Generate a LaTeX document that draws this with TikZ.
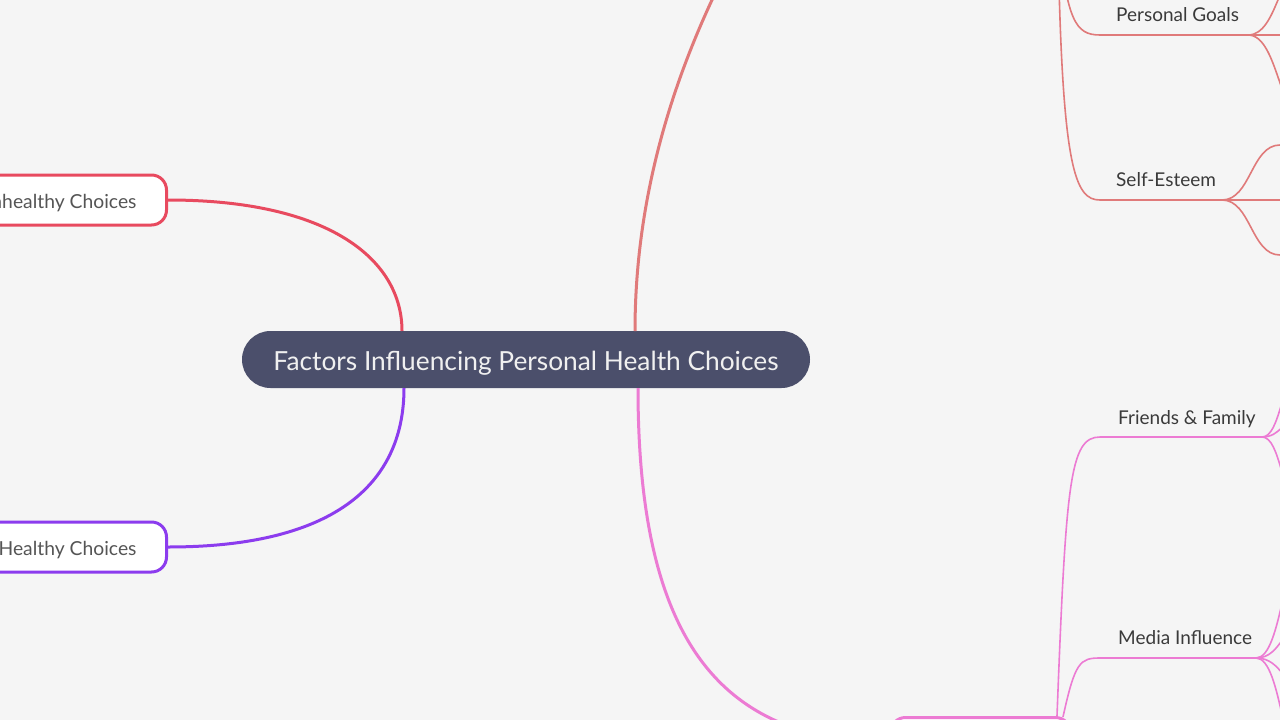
\documentclass[tikz,border=0pt]{standalone}
\usepackage{fontspec}
\setmainfont{Lato}
\definecolor{bg}{HTML}{F5F5F5}
\definecolor{central}{HTML}{4B4F6B}
\definecolor{redL}{HTML}{E84A5F}
\definecolor{purpleL}{HTML}{8C3CEE}
\definecolor{salmon}{HTML}{E07A7A}
\definecolor{pinkL}{HTML}{EC7BD3}
\definecolor{txt}{HTML}{3A3A3A}
\definecolor{boxtxt}{HTML}{555555}
\newcommand{\lowertext}[2]{\raisebox{-#1}[\height][\depth]{#2}}
\tikzset{
  centralnode/.style={fill=central, text=white!94!black, rounded corners=28.5pt, minimum width=568pt, minimum height=57pt, inner sep=0pt, font=\fontsize{26.3}{30}\selectfont},
  topicbox/.style={fill=white, line width=3pt, rounded corners=15pt, minimum height=50pt, inner xsep=30pt, text=boxtxt, font=\fontsize{19.3}{22}\selectfont},
  lbl/.style={text=txt, inner sep=0pt, font=\fontsize{19}{22}\selectfont},
  thick1/.style={line width=3pt},
  thin1/.style={line width=1.6pt},
}
\begin{document}
\begin{tikzpicture}[x=1pt,y=-1pt]
\useasboundingbox[fill=bg] (0,0) rectangle (1280,720);

% connector end points on the central node
\coordinate (cRedTop) at (402,331);
\coordinate (cPurBot) at (404,388);
\coordinate (cSalTop) at (635,331);
\coordinate (cPinkBot) at (638,388);
\coordinate (topParent) at (737,-50);
\coordinate (upParent) at (1058,-60);

% central node
\node[centralnode] (c) at (526,359.5) {\lowertext{4pt}{Factors Influencing Personal Health Choices}};

% left topic boxes
\node[topicbox, draw=redL, anchor=east] (u) at (168,200) {\lowertext{3.5pt}{Unhealthy Choices}};
\node[topicbox, draw=purpleL, anchor=east] (h) at (168,547) {\lowertext{3.5pt}{Healthy Choices}};

% bottom pink box (mostly off-page)
\node[topicbox, draw=pinkL, minimum width=180pt, anchor=north west] (m) at (889,716) {};

\draw[redL, thick1] (u.east) .. controls (330,200) and (402,260) .. (cRedTop);
\draw[purpleL, thick1] (h.east) .. controls (340,547) and (404,480) .. (cPurBot);
\draw[salmon, thick1] (cSalTop) .. controls (635,204) and (669,77) .. (topParent);
\draw[pinkL, thick1] (cPinkBot) .. controls (638,640) and (720,741) .. (m.west);

% upper-right labels
\node[lbl, anchor=base west] (pg) at (1116,21) {Personal Goals};
\node[lbl, anchor=base west] (se) at (1116,186) {Self-Esteem};
\coordinate (pgL) at (1100,35);
\coordinate (pgR) at (1248,35);
\coordinate (seL) at (1100,200);
\coordinate (seR) at (1222,200);

\draw[salmon, thin1] (upParent) .. controls (1068,20) and (1075,35) .. (pgL) -- (pgR);
\draw[salmon, thin1] (upParent) .. controls (1062,170) and (1075,200) .. (seL) -- (seR);

\coordinate (pg1) at (1310,-40);
\coordinate (pg2) at (1300,35);
\coordinate (pg3) at (1310,125);
\draw[salmon, thin1] (pgR) .. controls (1279,35) and (1279,-40) .. (pg1);
\draw[salmon, thin1] (pgR) -- (pg2);
\draw[salmon, thin1] (pgR) .. controls (1279,35) and (1279,125) .. (pg3);

\coordinate (se1) at (1300,145);
\coordinate (se2) at (1300,200);
\coordinate (se3) at (1300,255);
\draw[salmon, thin1] (seR) .. controls (1251,200) and (1251,145) .. (1280,145) -- (se1);
\draw[salmon, thin1] (seR) -- (se2);
\draw[salmon, thin1] (seR) .. controls (1251,200) and (1251,255) .. (1280,255) -- (se3);

% lower-right labels
\node[lbl, anchor=base west] (ff) at (1118,424) {Friends \& Family};
\node[lbl, anchor=base west] (mi) at (1118,644) {Media Influence};
\coordinate (ffL) at (1100,437);
\coordinate (ffR) at (1262,437);
\coordinate (miL) at (1100,658);
\coordinate (miR) at (1256,658);
\coordinate (mTop1) at (1057,716);
\coordinate (mTop2) at (1063,717);

\draw[pinkL, thin1] (mTop1) .. controls (1066,480) and (1070,437) .. (ffL) -- (ffR);
\draw[pinkL, thin1] (mTop2) .. controls (1075,662) and (1080,658) .. (miL) -- (miR);

\coordinate (ff1) at (1300,375);
\coordinate (ff2) at (1300,420);
\coordinate (ff3) at (1300,500);
\draw[pinkL, thin1] (ffR) .. controls (1281,437) and (1281,375) .. (ff1);
\draw[pinkL, thin1] (ffR) .. controls (1281,437) and (1281,420) .. (ff2);
\draw[pinkL, thin1] (ffR) .. controls (1281,437) and (1281,500) .. (ff3);

\coordinate (mi1) at (1310,540);
\coordinate (mi2) at (1310,620);
\coordinate (mi3) at (1310,690);
\coordinate (mi4) at (1310,780);
\draw[pinkL, thin1] (miR) .. controls (1283,658) and (1283,540) .. (mi1);
\draw[pinkL, thin1] (miR) .. controls (1283,658) and (1283,620) .. (mi2);
\draw[pinkL, thin1] (miR) .. controls (1283,658) and (1283,690) .. (mi3);
\draw[pinkL, thin1] (miR) .. controls (1283,658) and (1283,780) .. (mi4);
\end{tikzpicture}
\end{document}
